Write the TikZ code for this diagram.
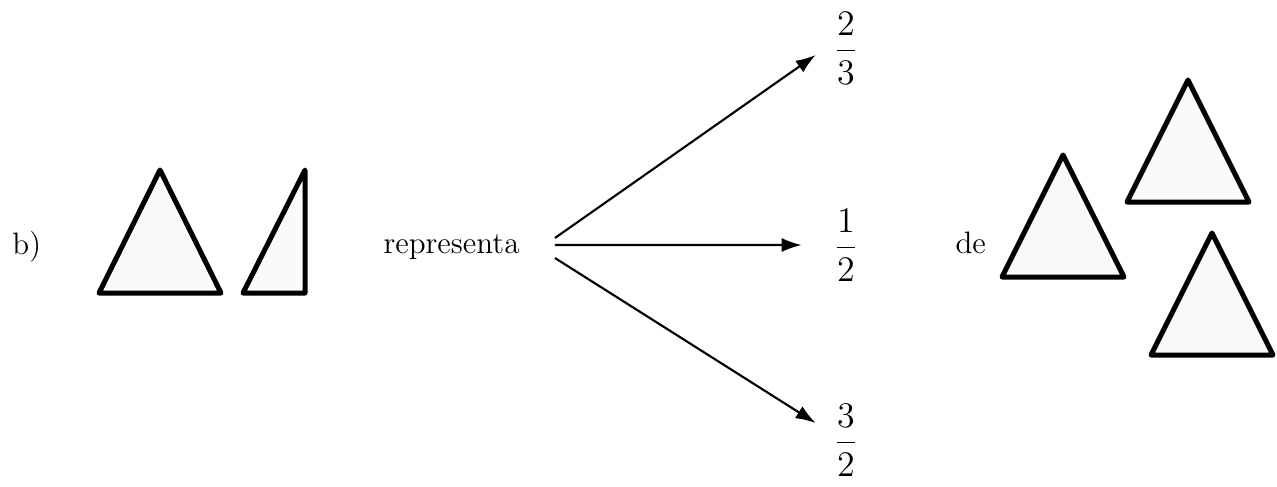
\documentclass[tikz,border=0pt]{standalone}
\usepackage{amsmath}
\usetikzlibrary{arrows.meta}
\definecolor{Ink}{HTML}{000000}
\definecolor{Paper}{HTML}{FAFAFA}

\begin{document}
\begin{tikzpicture}[x=0.4pt,y=-0.4pt,
  tri/.style={draw=Ink,fill=Paper,line width=2pt,line join=round},
  word/.style={font=\fontsize{12.4}{15}\selectfont,inner sep=0pt,anchor=base west},
  frac/.style={font=\fontsize{14.4}{17}\selectfont,inner sep=0pt},
  arr/.style={draw=Ink,line width=0.85pt,-{Latex[length=8pt,width=5.6pt]}}]
  \useasboundingbox (0,0) rectangle (1277,486);
  % left part
  \node[word] (lab) at (12,254) {b)};
  \draw[tri] (160,170) -- (221,293) -- (99,293) -- cycle;
  \draw[tri] (305,170) -- (305,293) -- (243,293) -- cycle;
  \node[word] (rep) at (383,253) {representa};
  \coordinate (out) at ([xshift=14pt,yshift=3.2pt]rep.base east);
  % the three fractions
  \node[frac] (f23) at (846,48) {$\dfrac{2}{3}$};
  \node[frac] (f12) at (846,245) {$\dfrac{1}{2}$};
  \node[frac] (f32) at (846,440) {$\dfrac{3}{2}$};
  \draw[arr] ([yshift=2.8pt]out) -- ([xshift=-7.2pt,yshift=-2.8pt]f23.west);
  \draw[arr] (out) -- ([xshift=-12.8pt]f12.west);
  \draw[arr] ([yshift=-5.2pt]out) -- ([xshift=-7.2pt,yshift=6.8pt]f32.west);
  % right part
  \node[word] (de) at (955,253) {de};
  \foreach \x/\y in {1063/155,1188/80,1212/233}
    \draw[tri] (\x,\y) -- ++(61,122) -- ++(-122,0) -- cycle;
\end{tikzpicture}
\end{document}
